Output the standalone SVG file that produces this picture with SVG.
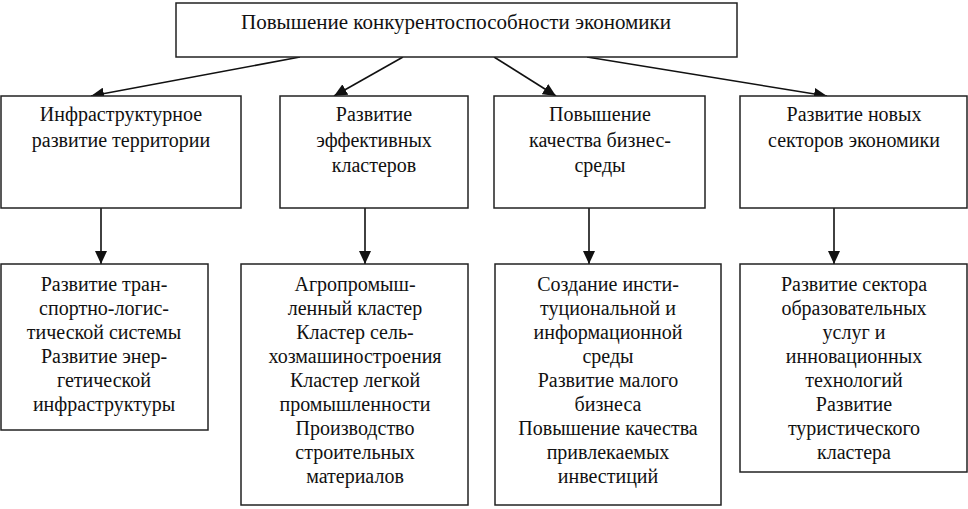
<svg xmlns="http://www.w3.org/2000/svg" width="968" height="509" viewBox="0 0 968 509" font-family="Liberation Serif, Tinos, Times New Roman, Noto Serif, DejaVu Serif, serif">
<style>
.box{fill:#fff;stroke:#222;stroke-width:1.5}
.t{font-size:20px;fill:#111;text-anchor:middle}
.c{stroke:#111;stroke-width:1.6;fill:none;marker-end:url(#ah)}
</style>
<defs>
<marker id="ah" markerUnits="userSpaceOnUse" markerWidth="14" markerHeight="12" refX="13" refY="6" orient="auto">
<path d="M0,0 L13,6 L0,12 Z" fill="#111"/>
</marker>
</defs>
<rect width="968" height="509" fill="#fff"/>
<g id="connectors">
<line class="c" x1="300" y1="57" x2="91" y2="96"/>
<line class="c" x1="403" y1="57" x2="334" y2="96"/>
<line class="c" x1="494" y1="57" x2="556" y2="96"/>
<line class="c" x1="587" y1="57" x2="827" y2="96"/>
<line class="c" x1="101" y1="208" x2="101" y2="264"/>
<line class="c" x1="365" y1="208" x2="365" y2="264"/>
<line class="c" x1="589" y1="208" x2="589" y2="264"/>
<line class="c" x1="834" y1="208" x2="834" y2="264"/>
</g>
<g id="root">
<rect class="box" x="176" y="3" width="561" height="54"/>
<text class="t" x="456" y="29" textLength="430" lengthAdjust="spacingAndGlyphs">Повышение конкурентоспособности экономики</text>
</g>
<g id="n1">
<rect class="box" x="1" y="96" width="240" height="112"/>
<text class="t" x="121"><tspan x="121" y="121">Инфраструктурное</tspan><tspan x="121" y="147">развитие территории</tspan></text>
</g>
<g id="n2">
<rect class="box" x="280" y="96" width="188" height="112"/>
<text class="t"><tspan x="374" y="121">Развитие</tspan><tspan x="374" y="147">эффективных</tspan><tspan x="374" y="172">кластеров</tspan></text>
</g>
<g id="n3">
<rect class="box" x="494" y="96" width="211" height="112"/>
<text class="t"><tspan x="600" y="121">Повышение</tspan><tspan x="600" y="147">качества бизнес-</tspan><tspan x="600" y="172">среды</tspan></text>
</g>
<g id="n4">
<rect class="box" x="740" y="96" width="227" height="112"/>
<text class="t"><tspan x="854" y="121">Развитие новых</tspan><tspan x="854" y="147">секторов экономики</tspan></text>
</g>
<g id="n1a">
<rect class="box" x="1" y="264" width="207" height="166"/>
<text class="t"><tspan x="104" y="291">Развитие тран-</tspan><tspan x="104" y="315">спортно-логис-</tspan><tspan x="104" y="339">тической системы</tspan><tspan x="104" y="363">Развитие энер-</tspan><tspan x="104" y="387">гетической</tspan><tspan x="104" y="411">инфраструктуры</tspan></text>
</g>
<g id="n2a">
<rect class="box" x="241" y="264" width="227" height="241"/>
<text class="t"><tspan x="355" y="291">Агропромыш-</tspan><tspan x="355" y="315">ленный кластер</tspan><tspan x="355" y="339">Кластер сель-</tspan><tspan x="355" y="363">хозмашиностроения</tspan><tspan x="355" y="387">Кластер легкой</tspan><tspan x="355" y="411">промышленности</tspan><tspan x="355" y="435">Производство</tspan><tspan x="355" y="459">строительных</tspan><tspan x="355" y="483">материалов</tspan></text>
</g>
<g id="n3a">
<rect class="box" x="495" y="264" width="226" height="241"/>
<text class="t"><tspan x="608" y="291">Создание инсти-</tspan><tspan x="608" y="315">туциональной и</tspan><tspan x="608" y="339">информационной</tspan><tspan x="608" y="363">среды</tspan><tspan x="608" y="387">Развитие малого</tspan><tspan x="608" y="411">бизнеса</tspan><tspan x="608" y="435">Повышение качества</tspan><tspan x="608" y="459">привлекаемых</tspan><tspan x="608" y="483">инвестиций</tspan></text>
</g>
<g id="n4a">
<rect class="box" x="740" y="264" width="227" height="208"/>
<text class="t"><tspan x="854" y="291">Развитие сектора</tspan><tspan x="854" y="315">образовательных</tspan><tspan x="854" y="339">услуг и</tspan><tspan x="854" y="363">инновационных</tspan><tspan x="854" y="387">технологий</tspan><tspan x="854" y="411">Развитие</tspan><tspan x="854" y="435">туристического</tspan><tspan x="854" y="459">кластера</tspan></text>
</g>
</svg>
